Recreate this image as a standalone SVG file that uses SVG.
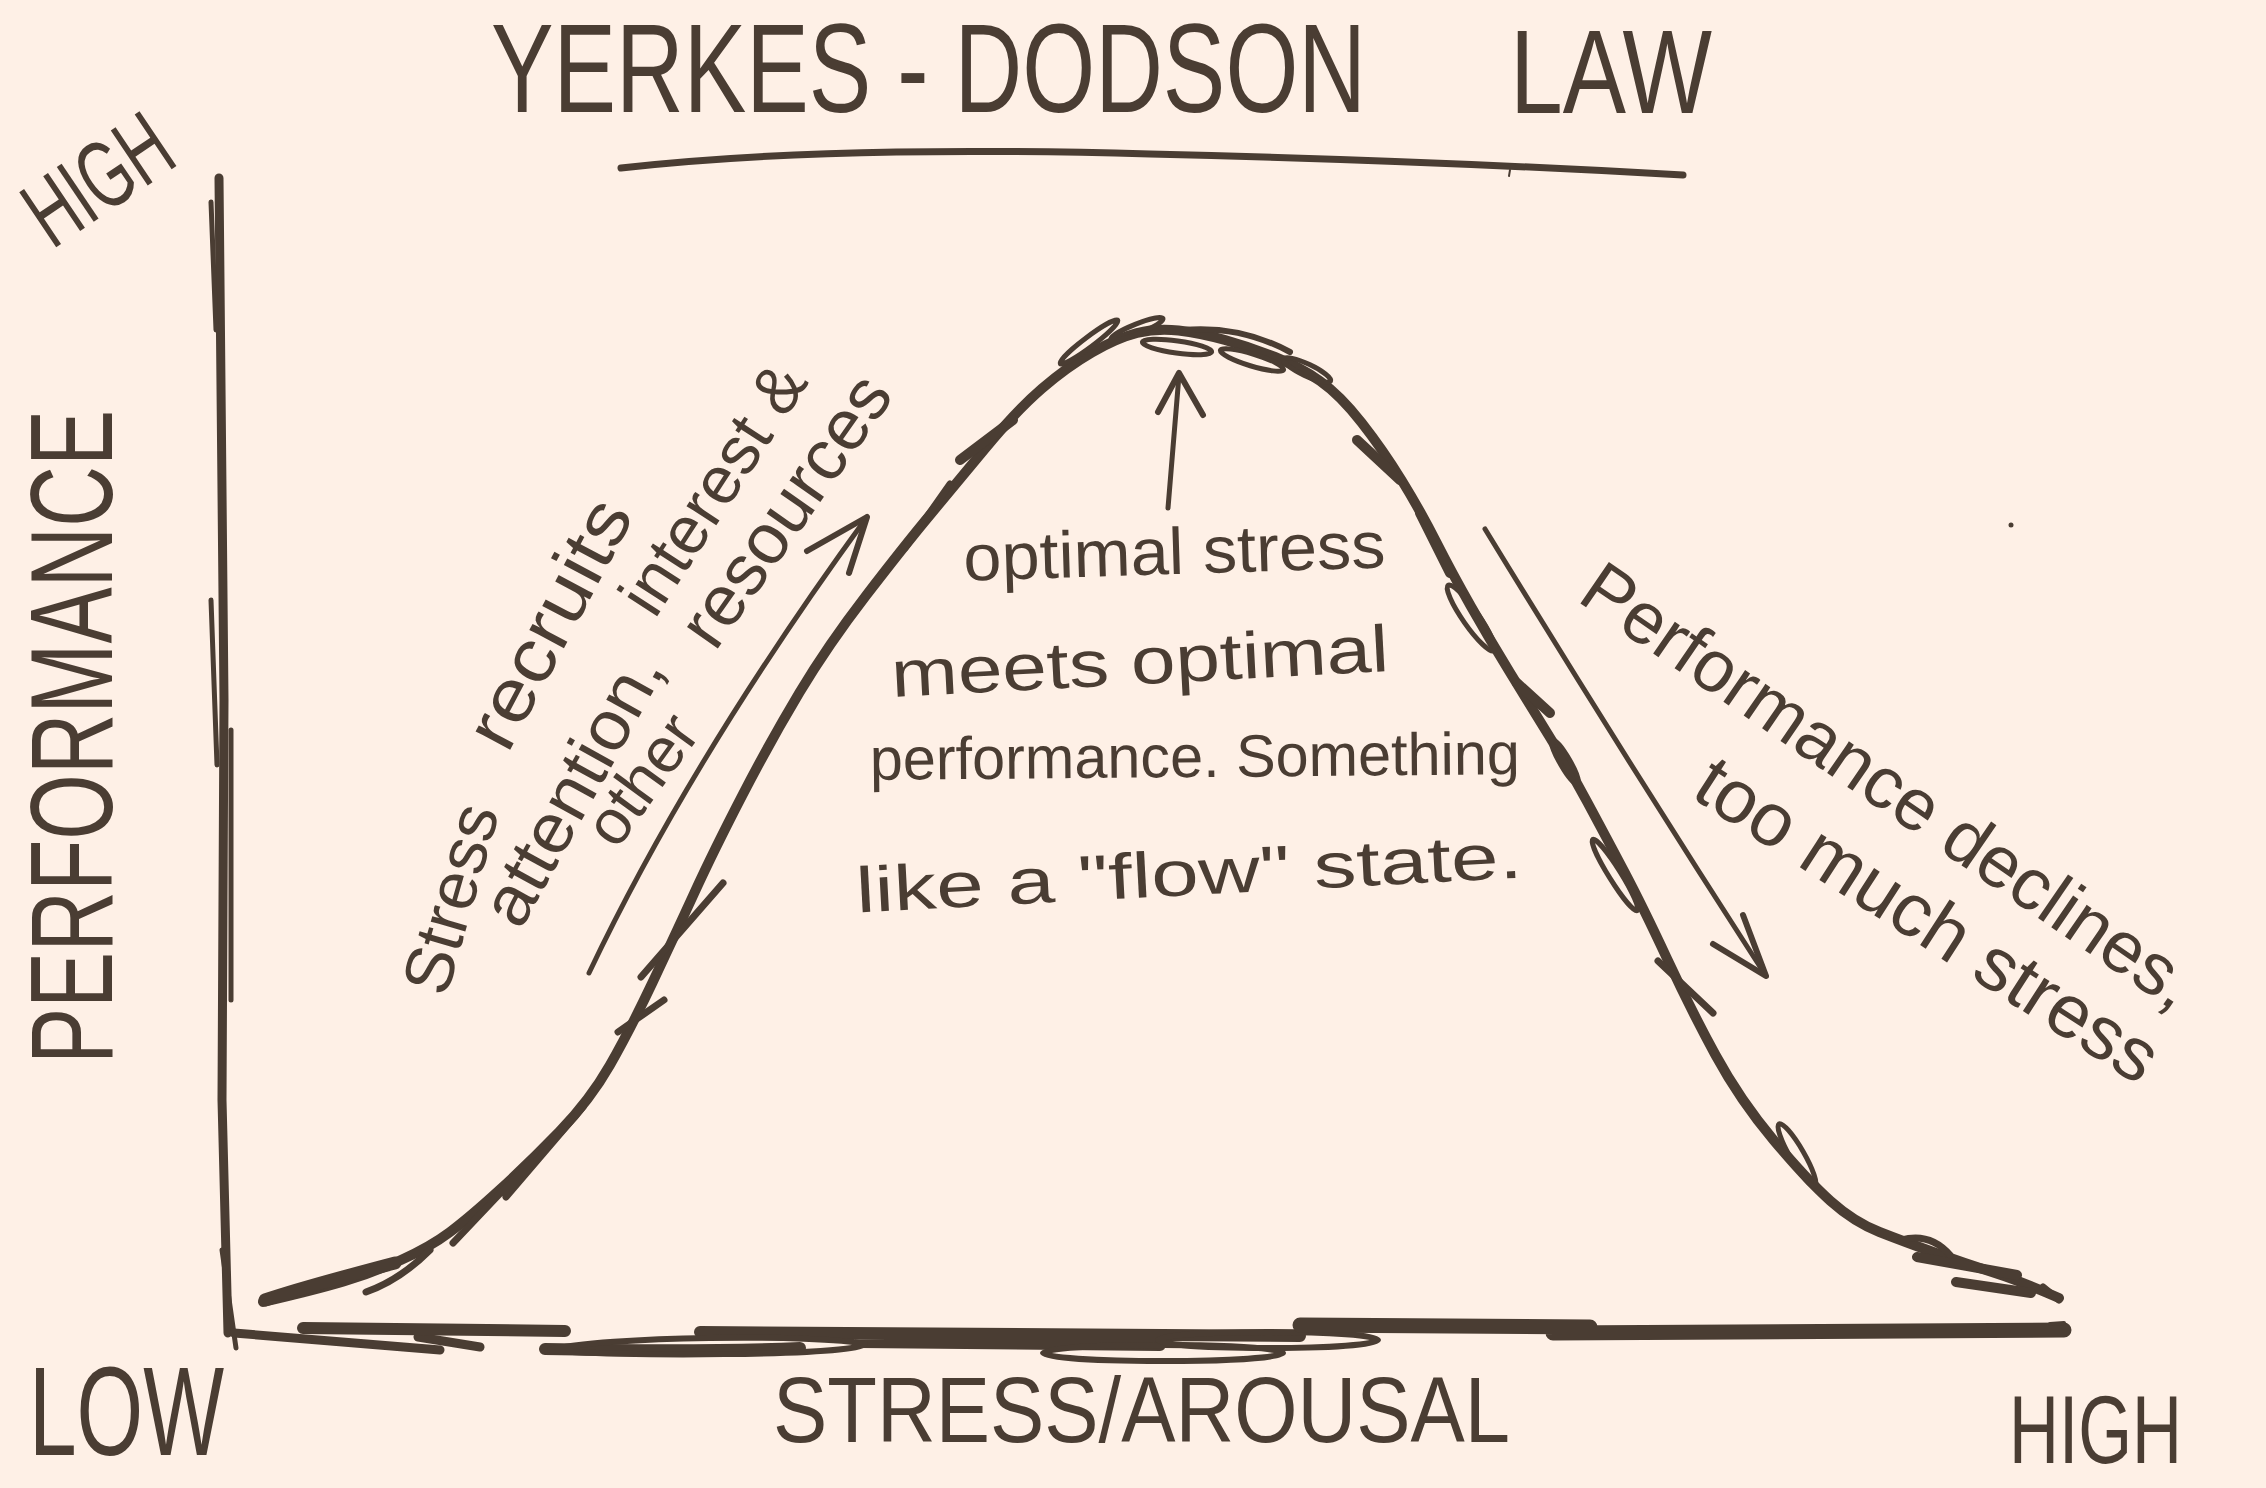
<svg xmlns="http://www.w3.org/2000/svg" width="2266" height="1488" viewBox="0 0 2266 1488">
<style>
.ink{fill:none;stroke:#4A3D33;stroke-linecap:round;stroke-linejoin:round}
.t{font-family:"Liberation Sans",Arial,sans-serif;fill:#4A3D33}
</style>
<rect width="2266" height="1488" fill="#FEF0E6"/>
<g id="title">
<text class="t" transform="translate(491,112) scale(1,1.37)" font-size="91.8" textLength="875" lengthAdjust="spacingAndGlyphs">YERKES - DODSON</text>
<text class="t" transform="translate(1510,113) scale(1,1.28)" font-size="93" textLength="202" lengthAdjust="spacingAndGlyphs">LAW</text>
<path class="ink" stroke-width="7" d="M621,168 C800,148 1000,150 1150,154 C1400,160 1560,168 1683,175"/>
<path class="ink" stroke-width="2" d="M1510,170 L1509,176"/>
</g>
<g id="axes">
<path class="ink" stroke-width="9" d="M219,178 L224,700 L222,1100 L228,1333"/>
<path class="ink" stroke-width="5" d="M211,202 L216,330 M211,600 L217,765 M231,730 L231,1000 M222,1250 L236,1348"/>
<path class="ink" stroke-width="9" d="M234,1333 L440,1350 M418,1337 L480,1347"/>
<path class="ink" stroke-width="12" d="M303,1328 L565,1331 M545,1349 Q700,1352 800,1348 M700,1332 L1300,1336 M860,1342 L1160,1345"/>
<path class="ink" stroke-width="6" d="M550,1350 C600,1336 820,1334 865,1344 C860,1356 600,1357 550,1350"/>
<ellipse class="ink" stroke-width="6" cx="1163" cy="1353" rx="120" ry="8"/>
<ellipse class="ink" stroke-width="6" cx="1268" cy="1340" rx="110" ry="8"/>
<path class="ink" stroke-width="15" d="M1300,1325 L1590,1327 M1553,1333 L2064,1330"/>
<path class="ink" stroke-width="4" d="M2050,1324 L2064,1323"/>
</g>
<g id="axis-labels">
<text class="t" transform="translate(52,250) rotate(-34) scale(1,1.55)" font-size="62" textLength="155" lengthAdjust="spacingAndGlyphs">HIGH</text>
<text class="t" transform="translate(112,737) rotate(-90) scale(1,1.5)" text-anchor="middle" font-size="78" textLength="654" lengthAdjust="spacingAndGlyphs">PERFORMANCE</text>
<text class="t" transform="translate(29,1455) scale(1,1.47)" font-size="85.6" textLength="195" lengthAdjust="spacingAndGlyphs">LOW</text>
<text class="t" transform="translate(773,1442) scale(1,1.13)" font-size="81.4" textLength="737" lengthAdjust="spacingAndGlyphs">STRESS/AROUSAL</text>
<text class="t" transform="translate(2009,1463) scale(1,1.41)" font-size="69" textLength="173" lengthAdjust="spacingAndGlyphs">HIGH</text>
</g>
<g id="curve">
<path class="ink" stroke-width="10" d="M263,1302 Q315,1290 343.5,1281.5 Q372,1273 401,1260 Q430,1247 450,1232 Q470,1217 499.5,1190 Q529,1163 559.5,1131.5 Q590,1100 610,1065 Q630,1030 652.5,982.5 Q675,935 694.5,892.5 Q714,850 742.5,795 Q771,740 799.5,692.5 Q828,645 866.5,595 Q905,545 930,515 Q955,485 986,447.5 Q1017,410 1042,388.5 Q1067,367 1092,352.5 Q1117,338 1137,333 Q1157,328 1178.5,330.5 Q1200,333 1225,340 Q1250,347 1275,357 Q1300,367 1320,381 Q1340,395 1361.5,422.5 Q1383,450 1401.5,480 Q1420,510 1436,541.5 Q1452,573 1471,606.5 Q1490,640 1510,672.5 Q1530,705 1550,737.5 Q1570,770 1587.5,802.5 Q1605,835 1624,871 Q1643,907 1667,958.5 Q1691,1010 1715.5,1055 Q1740,1100 1773.5,1140 Q1807,1180 1830.5,1201 Q1854,1222 1879.5,1232 Q1905,1242 1934.5,1252.5 Q1964,1263 1993.5,1272.5 Q2023,1282 2059,1298"/>
<path class="ink" stroke-width="13" d="M265,1300 Q300,1288 395,1263"/>
<path class="ink" stroke-width="7" d="M366,1292 Q400,1280 430,1250 M453,1243 L529,1163 M506,1197 L583,1107 M641,977 L723,883 M618,1032 L664,1000 M905,548 L950,484"/>
<path class="ink" stroke-width="10" d="M960,460 L1013,420 M1357,440 L1400,480 M1420,513 L1450,573 M1517,683 L1550,713 M1956,1282 L2031,1293 M1917,1257 L2017,1275"/>
<ellipse class="ink" stroke-width="5" cx="1089" cy="342" rx="36" ry="5" transform="rotate(-37 1089 342)"/>
<ellipse class="ink" stroke-width="5" cx="1137" cy="329" rx="28" ry="5" transform="rotate(-22 1137 329)"/>
<ellipse class="ink" stroke-width="5" cx="1177" cy="347" rx="35" ry="6" transform="rotate(8 1177 347)"/>
<path class="ink" stroke-width="6" d="M1183,330 Q1240,325 1290,352"/>
<ellipse class="ink" stroke-width="5" cx="1252" cy="360" rx="33" ry="6" transform="rotate(17 1252 360)"/>
<ellipse class="ink" stroke-width="5" cx="1307" cy="370" rx="26" ry="6" transform="rotate(25 1307 370)"/>
<ellipse class="ink" stroke-width="5" cx="1471" cy="618" rx="40" ry="8" transform="rotate(55 1471 618)"/>
<ellipse class="ink" stroke-width="5" cx="1565" cy="762" rx="25" ry="5" transform="rotate(60 1565 762)"/>
<ellipse class="ink" stroke-width="5" cx="1615" cy="875" rx="42" ry="6" transform="rotate(58 1615 875)"/>
<ellipse class="ink" stroke-width="5" cx="1797" cy="1155" rx="36" ry="7" transform="rotate(60 1797 1155)"/>
<path class="ink" stroke-width="7" d="M1901,1240 Q1930,1232 1950,1255 M1658,961 L1713,1013 M2043,1287 L2059,1300"/>
</g>
<g id="connectors">
<path class="ink" stroke-width="5" d="M589,973 Q690,760 867,517"/>
<path class="ink" stroke-width="6" d="M807,551 L867,517 L849,573"/>
<path class="ink" stroke-width="5" d="M1168,508 L1179,375"/>
<path class="ink" stroke-width="6" d="M1158,412 L1179,373 L1203,415"/>
<path class="ink" stroke-width="5" d="M1485,529 Q1620,750 1766,976"/>
<path class="ink" stroke-width="6" d="M1743,915 L1766,976 L1713,944"/>
</g>
<g id="label-left">
<text class="t" transform="translate(473,905) rotate(-74)" text-anchor="middle" font-size="68" textLength="194" lengthAdjust="spacingAndGlyphs">Stress</text>
<text class="t" transform="translate(571,635) rotate(-62)" text-anchor="middle" font-size="74" textLength="271" lengthAdjust="spacingAndGlyphs">recruits</text>
<text class="t" transform="translate(593,800) rotate(-61)" text-anchor="middle" font-size="70" textLength="300" lengthAdjust="spacingAndGlyphs">attention,</text>
<text class="t" transform="translate(732,501) rotate(-57)" text-anchor="middle" font-size="67" textLength="284" lengthAdjust="spacingAndGlyphs">interest &amp;</text>
<text class="t" transform="translate(659,792) rotate(-54)" text-anchor="middle" font-size="63" textLength="145" lengthAdjust="spacingAndGlyphs">other</text>
<text class="t" transform="translate(805,524) rotate(-55)" text-anchor="middle" font-size="71" textLength="314" lengthAdjust="spacingAndGlyphs">resources</text>
</g>
<g id="label-center">
<text class="t" transform="translate(1175,574) rotate(-1.8)" text-anchor="middle" font-size="66" textLength="422" lengthAdjust="spacingAndGlyphs">optimal stress</text>
<text class="t" transform="translate(1141,684) rotate(-3)" text-anchor="middle" font-size="66" textLength="498" lengthAdjust="spacingAndGlyphs">meets optimal</text>
<text class="t" transform="translate(1195,777) rotate(-0.5)" text-anchor="middle" font-size="60" textLength="650" lengthAdjust="spacingAndGlyphs">performance. Something</text>
<text class="t" transform="translate(1190,895) rotate(-3)" text-anchor="middle" font-size="64" textLength="667" lengthAdjust="spacingAndGlyphs">like a "flow" state.</text>
</g>
<g id="label-right">
<text class="t" transform="translate(1875,806) rotate(34.5)" text-anchor="middle" font-size="73" textLength="727" lengthAdjust="spacingAndGlyphs">Performance declines,</text>
<text class="t" transform="translate(1914,941) rotate(32.8)" text-anchor="middle" font-size="75" textLength="535" lengthAdjust="spacingAndGlyphs">too much stress</text>
</g>
<circle cx="2011" cy="525" r="2.5" fill="#4A3D33"/>
</svg>
